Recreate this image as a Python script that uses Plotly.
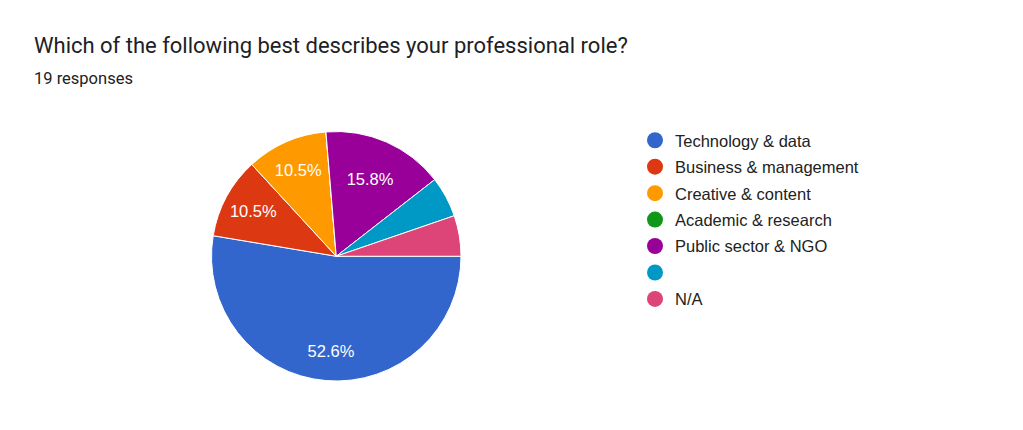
import plotly.graph_objects as go

# survey answers (19 responses)
labels = ["Technology & data", "Business & management", "Creative & content",
          "Academic & research", "Public sector & NGO", "", "N/A"]
counts = [10, 2, 2, 0, 3, 1, 1]
colors = ["#3366cc", "#dc3912", "#ff9900", "#109618", "#990099", "#0099c6", "#dd4477"]

title = "Which of the following best describes your professional role?"
subtitle = "19 responses"

W, H = 1023, 430
OX, OY = 8, 8  # page margin around the plot div

def px_x(v):
    return (v - OX) / W

def px_y(v):
    return 1 - (v - OY) / H

total = sum(counts)
# google hides the label on thin slices; big slice label sits further out
pad = "\u00a0<br>" * 3
templates = []
for c in counts:
    if c / total < 0.1:
        templates.append("")
    elif c / total > 0.5:
        templates.append(pad + "%{percent:.1%}")
    else:
        templates.append("%{percent:.1%}")

fig = go.Figure()
fig.add_trace(go.Pie(
    labels=[l if l else " " for l in labels], values=counts, sort=False,
    direction="clockwise", rotation=90,
    marker=dict(colors=colors, line=dict(color="white", width=1)),
    texttemplate=templates, textposition="inside",
    insidetextorientation="horizontal",
    textfont=dict(family="Liberation Sans, Arial", size=16.5, color="white"),
    showlegend=False,
    domain=dict(x=[px_x(211.5), px_x(461)], y=[px_y(381), px_y(131.5)]),
))

# legend with round markers, like the forms chart
for i, (lab, col) in enumerate(zip(labels, colors)):
    fig.add_trace(go.Scatter(
        x=[None], y=[None], mode="markers", name=lab if lab else " ",
        marker=dict(color=col, size=16, symbol="circle"),
        legendgroup=str(i), showlegend=True,
    ))

fig.add_annotation(text=title, x=24 / W, y=1 - 37 / H, xref="paper", yref="paper",
                   xanchor="left", yanchor="middle", showarrow=False,
                   font=dict(family="Roboto", size=22, color="#202124"))
fig.add_annotation(text=subtitle, x=24 / W, y=1 - 70 / H, xref="paper", yref="paper",
                   xanchor="left", yanchor="middle", showarrow=False,
                   font=dict(family="Roboto", size=16.5, color="#202124"))

fig.update_layout(
    width=W, height=H,
    margin=dict(l=0, r=0, t=0, b=0),
    paper_bgcolor="white", plot_bgcolor="white",
    xaxis=dict(visible=False), yaxis=dict(visible=False),
    legend=dict(x=627 / W, y=1 - 115 / H, xanchor="left", yanchor="top",
                font=dict(family="Liberation Sans, Arial", size=16.5, color="#222222"),
                tracegroupgap=2, itemsizing="trace", bgcolor="rgba(0,0,0,0)"),
)

fig.write_html("out.html")
